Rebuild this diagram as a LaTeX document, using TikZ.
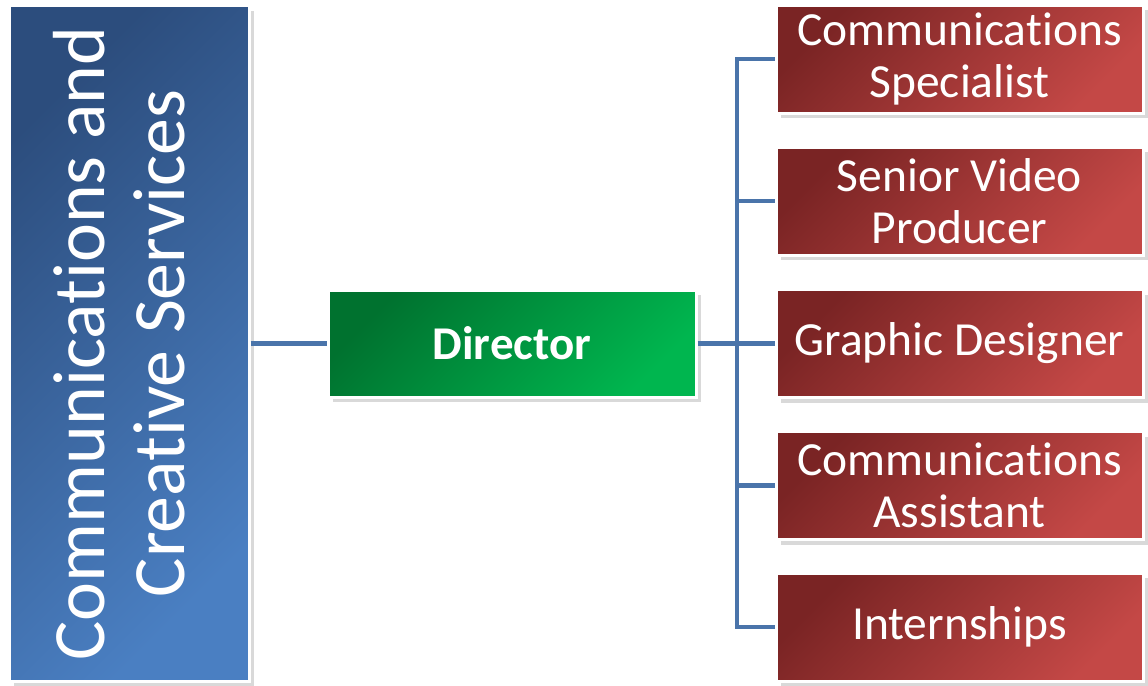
\documentclass[tikz,border=0pt]{standalone}
\usepackage{fontspec}
\setmainfont{Carlito}[RawFeature={-liga;-clig;-calt;-dlig}]
\usetikzlibrary{shadows}

\definecolor{deptdark}{HTML}{2C4D7D}
\definecolor{deptlight}{HTML}{4A7FC2}
\definecolor{dirdark}{HTML}{00722F}
\definecolor{dirlight}{HTML}{00B64F}
\definecolor{roledark}{HTML}{7A2424}
\definecolor{rolelight}{HTML}{C44846}
\definecolor{linkblue}{HTML}{4A74AA}

\begin{document}
\begin{tikzpicture}[x=0.5pt,y=-0.5pt,
  box/.style={draw=white, line width=1.5pt, text=white, inner sep=0pt,
    drop shadow={shadow xshift=2.5pt, shadow yshift=-2.5pt, opacity=0.3}},
  deptbox/.style={box, top color=deptdark, bottom color=deptlight,
    shading angle=45, minimum width=120pt, minimum height=338pt,
    font=\fontsize{36.9}{40}\selectfont},
  dirbox/.style={box, top color=dirdark, bottom color=dirlight,
    shading angle=45, minimum width=184pt, minimum height=53.5pt,
    font=\fontsize{23.5}{26}\selectfont\bfseries},
  rolebox/.style={box, top color=roledark, bottom color=rolelight,
    shading angle=45, minimum width=183.5pt, minimum height=54pt,
    align=center, font=\fontsize{23.75}{26}\selectfont},
  link/.style={draw=linkblue, line width=2.4pt}
]
\useasboundingbox (0,0) rectangle (1148,686);

% Department and its head
\node[deptbox] (dept) at (129,343.5)
  {\rotatebox{90}{\begin{tabular}{@{}c@{}}Communications and\\Creative Services\end{tabular}}};
\node[dirbox] (director) at (512,343.5) {Director};

% Staff
\node[rolebox] (spec) at (959.5,59) {Communications\\Specialist};
\node[rolebox] (video) at (959.5,201) {Senior Video\\Producer};
\node[rolebox] (graphic) at (959.5,343.5) {Graphic Designer};
\node[rolebox] (assist) at (959.5,485.5) {Communications\\Assistant};
\node[rolebox] (intern) at (959.5,627) {Internships};

% Connectors
\coordinate (bus) at (737,343.5);
\draw[link] (dept.east) -- (director.west);
\draw[link] (director.east) -- (bus);
\foreach \r in {spec,video,graphic,assist,intern}
  \draw[link] (bus) |- (\r.west);
\end{tikzpicture}
\end{document}
